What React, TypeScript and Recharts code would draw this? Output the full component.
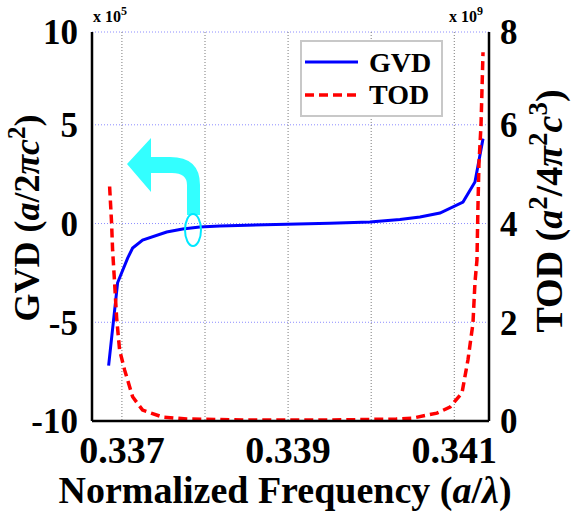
import { LineChart, Line, XAxis, YAxis, CartesianGrid } from 'recharts';

const SERIF = '"Liberation Serif", "Times New Roman", serif';

// GVD (x 10^5), left axis
const gvdFreq = [
  0.33684, 0.336948, 0.337069, 0.337129, 0.337249, 0.337539, 0.337731, 0.337936, 0.338177,
  0.338984, 0.339502, 0.339984, 0.340346, 0.340587, 0.340828, 0.341105, 0.341249, 0.341346,
];
const gvdValues = [
  -7.2, -3.0, -1.75, -1.24, -0.84, -0.43, -0.28, -0.18, -0.13,
  -0.03, 0.02, 0.08, 0.2, 0.33, 0.53, 1.09, 2.1, 4.3,
];

// TOD (x 10^9), right axis
const todFreq = [
  0.336852, 0.336876, 0.336888, 0.336912, 0.336936, 0.336972, 0.337033, 0.337129, 0.337249,
  0.33749, 0.33778, 0.3385, 0.3395, 0.3403, 0.340502, 0.340791, 0.340948, 0.341093, 0.341165,
  0.341225, 0.341249, 0.341273, 0.341285, 0.341297, 0.341322, 0.341346,
];
const todValues = [
  4.75, 4.0, 3.46, 2.8, 2.1, 1.44, 1.03, 0.49, 0.22,
  0.08, 0.04, 0.02, 0.02, 0.04, 0.06, 0.16, 0.28, 0.57, 1.24,
  1.98, 2.8, 3.26, 4.33, 5.2, 6.0, 7.47,
];

const xTicks = [0.337, 0.338, 0.339, 0.34, 0.341];
const gvdTicks = [-10, -5, 0, 5, 9.7];
const todTicks = [0, 2, 4, 6, 7.88];

const gvdData = gvdFreq.map((f, i) => ({ f, v: gvdValues[i] }));
const todData = todFreq.map((f, i) => ({ f, v: todValues[i] }));

const tickStyle = { fontFamily: SERIF, fontWeight: 'bold', fill: '#000' };

export default function App() {
  return (
    <div style={{ position: 'absolute', left: 0, top: 0, width: 571, height: 512, background: '#fff' }}>
      <LineChart width={571} height={512} margin={{ top: 32, right: 22, bottom: 31, left: 32 }}>
        <CartesianGrid yAxisId="left" vertical={false} stroke="#8c8cff" strokeDasharray="1 2" />
        <CartesianGrid yAxisId="left" horizontal={false} stroke="#7a7a7a" strokeDasharray="1 2" />
        <XAxis
          dataKey="f"
          type="number"
          domain={[0.33664, 0.341418]}
          ticks={xTicks}
          allowDataOverflow
          height={60}
          tickLine={false}
          tickMargin={9}
          axisLine={{ stroke: '#000', strokeWidth: 2.5 }}
          tick={{ ...tickStyle, fontSize: 38 }}
          tickFormatter={(v: number) => (Math.round(v * 1000) % 2 === 1 ? v.toFixed(3) : '')}
        />
        <XAxis
          xAxisId="top"
          orientation="top"
          type="number"
          domain={[0.33664, 0.341418]}
          height={0}
          tick={false}
          tickLine={false}
          axisLine={{ stroke: '#000', strokeWidth: 2.5 }}
        />
        <YAxis
          yAxisId="left"
          type="number"
          domain={[-10, 9.7]}
          ticks={gvdTicks}
          allowDataOverflow
          width={60}
          tickLine={false}
          tickMargin={8}
          axisLine={{ stroke: '#000', strokeWidth: 2.5 }}
          tick={{ ...tickStyle, fontSize: 35 }}
          tickFormatter={(v: number) => String(Math.round(v))}
        />
        <YAxis
          yAxisId="right"
          orientation="right"
          type="number"
          domain={[0, 7.88]}
          ticks={todTicks}
          allowDataOverflow
          width={60}
          tickLine={false}
          tickMargin={5}
          axisLine={{ stroke: '#000', strokeWidth: 2.5 }}
          tick={{ ...tickStyle, fontSize: 35 }}
          tickFormatter={(v: number) => String(Math.round(v))}
        />
        <Line
          data={gvdData}
          dataKey="v"
          yAxisId="left"
          type="linear"
          stroke="#0000ff"
          strokeWidth={3}
          dot={false}
          isAnimationActive={false}
        />
        <Line
          data={todData}
          dataKey="v"
          yAxisId="right"
          type="linear"
          stroke="#ff0000"
          strokeWidth={3.5}
          strokeDasharray="9 5"
          dot={false}
          isAnimationActive={false}
        />
      </LineChart>

      {/* titles, exponents, legend and the cyan arrow */}
      <svg
        width={571}
        height={512}
        style={{ position: 'absolute', left: 0, top: 0, pointerEvents: 'none' }}
        fontFamily={SERIF}
        fontWeight="bold"
      >
        <text x={93} y={22} fontSize={16}>
          x 10<tspan dy={-7} fontSize={12}>5</tspan>
        </text>
        <text x={449} y={22} fontSize={16}>
          x 10<tspan dy={-7} fontSize={12}>9</tspan>
        </text>

        <text x={285} y={503} fontSize={38} textAnchor="middle">
          Normalized Frequency (<tspan fontStyle="italic">a</tspan>/<tspan fontStyle="italic">λ</tspan>)
        </text>
        <text transform="translate(39,218) rotate(-90)" fontSize={36} textAnchor="middle">
          GVD (<tspan fontStyle="italic">a</tspan>/2<tspan fontStyle="italic">π</tspan>
          <tspan fontStyle="italic">c</tspan>
          <tspan dy={-14} fontSize={25}>2</tspan>
          <tspan dy={14}>)</tspan>
        </text>
        <text transform="translate(562,211) rotate(-90)" fontSize={38} textAnchor="middle">
          TOD (<tspan fontStyle="italic">a</tspan>
          <tspan dy={-15} fontSize={27}>2</tspan>
          <tspan dy={15}>/4</tspan>
          <tspan fontStyle="italic">π</tspan>
          <tspan dy={-15} fontSize={27}>2</tspan>
          <tspan dy={15} fontStyle="italic">c</tspan>
          <tspan dy={-15} fontSize={27}>3</tspan>
          <tspan dy={15}>)</tspan>
        </text>

        <rect x={301} y={41} width={141} height={75} fill="#fff" stroke="#c8c8c8" strokeWidth={2} />
        <line x1={305} y1={62} x2={358} y2={62} stroke="#0000ff" strokeWidth={3} />
        <text x={369} y={72} fontSize={28}>GVD</text>
        <line x1={305} y1={95} x2={358} y2={95} stroke="#ff0000" strokeWidth={3.5} strokeDasharray="9 5" />
        <text x={369} y={104} fontSize={28}>TOD</text>

        <path
          d="M151,157 L170,157 Q200,157 200,185 L200,215 L187,215 L187,185 Q187,173 172,173 L151,173 L151,192 L127,164 L151,138 Z"
          fill="#33ffff"
        />
        <ellipse cx={193} cy={230} rx={8} ry={16} fill="none" stroke="#00e8ff" strokeWidth={2} />
      </svg>
    </div>
  );
}
